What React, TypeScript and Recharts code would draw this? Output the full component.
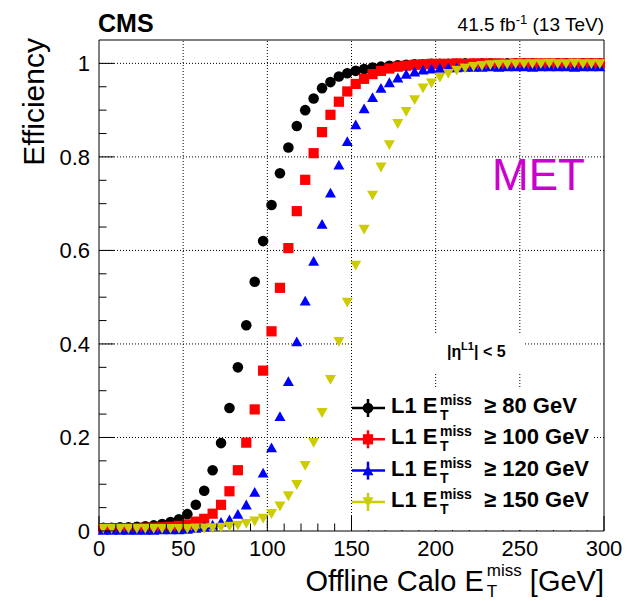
import React from 'react';
import {
  ScatterChart,
  Scatter,
  XAxis,
  YAxis,
  ReferenceLine,
  ReferenceArea,
} from 'recharts';

// offline calo MET bin centres [GeV]
const binCenters = [
  2.5, 7.5, 12.5, 17.5, 22.5, 27.5, 32.5, 37.5, 42.5, 47.5,
  52.5, 57.5, 62.5, 67.5, 72.5, 77.5, 82.5, 87.5, 92.5, 97.5,
  102.5, 107.5, 112.5, 117.5, 122.5, 127.5, 132.5, 137.5, 142.5, 147.5,
  152.5, 157.5, 162.5, 167.5, 172.5, 177.5, 182.5, 187.5, 192.5, 197.5,
  202.5, 207.5, 212.5, 217.5, 222.5, 227.5, 232.5, 237.5, 242.5, 247.5,
  252.5, 257.5, 262.5, 267.5, 272.5, 277.5, 282.5, 287.5, 292.5, 297.5,
];

// efficiency per L1 threshold
const eff80 = [
  0.007, 0.007, 0.008, 0.008, 0.009, 0.01, 0.012, 0.015, 0.019, 0.025,
  0.036, 0.056, 0.086, 0.13, 0.188, 0.263, 0.35, 0.44, 0.533, 0.62,
  0.697, 0.765, 0.82, 0.866, 0.9, 0.925, 0.947, 0.96, 0.972, 0.979,
  0.984, 0.988, 0.991, 0.993, 0.995, 0.996, 0.997, 0.998, 0.998, 0.999,
  0.999, 0.999, 0.999, 1.0, 0.999, 1.0, 1.0, 0.999, 1.0, 1.0,
  1.0, 1.0, 0.999, 1.0, 1.0, 1.0, 1.0, 1.0, 1.0, 1.0,
];
const eff100 = [
  0.006, 0.006, 0.006, 0.006, 0.006, 0.007, 0.007, 0.008, 0.009, 0.011,
  0.014, 0.02, 0.026, 0.037, 0.056, 0.085, 0.13, 0.189, 0.26, 0.343,
  0.427, 0.52, 0.605, 0.684, 0.751, 0.808, 0.853, 0.89, 0.918, 0.94,
  0.956, 0.967, 0.977, 0.984, 0.989, 0.993, 0.995, 0.997, 0.998, 0.999,
  0.999, 0.999, 1.0, 0.999, 1.0, 1.0, 1.0, 1.0, 0.999, 1.0,
  1.0, 1.0, 1.0, 1.0, 1.0, 1.0, 1.0, 1.0, 1.0, 1.0,
];
const eff120 = [
  0.002, 0.002, 0.002, 0.002, 0.002, 0.002, 0.002, 0.003, 0.003, 0.003,
  0.004, 0.006, 0.009, 0.013, 0.019, 0.024, 0.036, 0.056, 0.083, 0.124,
  0.178, 0.245, 0.32, 0.405, 0.492, 0.577, 0.656, 0.723, 0.783, 0.833,
  0.869, 0.903, 0.927, 0.947, 0.959, 0.969, 0.977, 0.982, 0.986, 0.988,
  0.99, 0.991, 0.991, 0.992, 0.992, 0.992, 0.993, 0.992, 0.993, 0.993,
  0.993, 0.992, 0.993, 0.993, 0.993, 0.993, 0.992, 0.993, 0.993, 0.993,
];
const eff150 = [
  0.005, 0.005, 0.005, 0.005, 0.005, 0.005, 0.005, 0.005, 0.005, 0.005,
  0.005, 0.006, 0.006, 0.007, 0.008, 0.01, 0.012, 0.016, 0.021, 0.027,
  0.037, 0.053, 0.075, 0.099, 0.14, 0.189, 0.253, 0.324, 0.405, 0.489,
  0.568, 0.645, 0.718, 0.778, 0.826, 0.871, 0.897, 0.922, 0.947, 0.958,
  0.97, 0.978, 0.985, 0.99, 0.993, 0.995, 0.997, 0.998, 0.998, 0.999,
  0.999, 0.999, 0.999, 1.0, 0.999, 0.999, 1.0, 0.999, 0.999, 0.999,
];

const thresholds = ['80', '100', '120', '150'];
const seriesValues = [eff80, eff100, eff120, eff150];
const seriesColors = ['#000000', '#ff0000', '#0000ff', '#cccc00'];
const markerKinds = ['circle', 'square', 'up', 'down'];

const xTicks = [
  0, 10, 20, 30, 40, 50, 60, 70, 80, 90, 100, 110, 120, 130, 140, 150,
  160, 170, 180, 190, 200, 210, 220, 230, 240, 250, 260, 270, 280, 290, 300,
];
const yTicks = [
  0, 0.05, 0.1, 0.15, 0.2, 0.25, 0.3, 0.35, 0.4, 0.45, 0.5,
  0.55, 0.6, 0.65, 0.7, 0.75, 0.8, 0.85, 0.9, 0.95, 1,
];
const xGrid = [50, 100, 150, 200, 250];
const yGrid = [0.2, 0.4, 0.6, 0.8, 1];

const FONT = '"Liberation Sans", Arial, Helvetica, sans-serif';

function Marker({ kind, cx, cy, color }: { kind: string; cx: number; cy: number; color: string }) {
  if (kind === 'circle') return <circle cx={cx} cy={cy} r={5.3} fill={color} />;
  if (kind === 'square')
    return <rect x={cx - 5.1} y={cy - 5.1} width={10.2} height={10.2} fill={color} />;
  if (kind === 'up')
    return (
      <polygon
        points={`${cx - 5.5},${cy + 4.6} ${cx + 5.5},${cy + 4.6} ${cx},${cy - 5.2}`}
        fill={color}
      />
    );
  return (
    <polygon
      points={`${cx - 5.5},${cy - 4.6} ${cx + 5.5},${cy - 4.6} ${cx},${cy + 5.2}`}
      fill={color}
    />
  );
}

const XTick = ({ x, y, payload }: any) => {
  const v = payload.value;
  const major = v % 50 === 0;
  return (
    <g>
      <line x1={x} x2={x} y1={y} y2={y - (major ? 15 : 7.5)} stroke="#000" />
      {major && (
        <text x={x} y={y + 25} textAnchor="middle" fontSize={22} fill="#000">
          {v}
        </text>
      )}
    </g>
  );
};

const YTick = ({ x, y, payload }: any) => {
  const v = payload.value;
  const major = Math.abs(v * 5 - Math.round(v * 5)) < 1e-6;
  return (
    <g>
      <line x1={x} x2={x + (major ? 15 : 7.5)} y1={y} y2={y} stroke="#000" />
      {major && (
        <text x={x - 9} y={y + 8} textAnchor="end" fontSize={22} fill="#000">
          {String(Number(v.toFixed(2)))}
        </text>
      )}
    </g>
  );
};

export default function App() {
  return (
    <div
      style={{
        position: 'absolute',
        left: 0,
        top: 0,
        width: 627,
        height: 601,
        background: '#fff',
        fontFamily: FONT,
      }}
    >
      <ScatterChart
        width={627}
        height={601}
        margin={{ top: 40, right: 23, left: 0, bottom: 0 }}
      >
        <XAxis
          dataKey="x"
          type="number"
          domain={[0, 300]}
          ticks={xTicks}
          interval={0}
          tickSize={0}
          tickMargin={0}
          height={70}
          axisLine={false}
          tickLine={false}
          tick={<XTick />}
        />
        <YAxis
          dataKey="y"
          type="number"
          domain={[0, 1.05]}
          ticks={yTicks}
          interval={0}
          tickSize={0}
          tickMargin={0}
          width={99}
          axisLine={false}
          tickLine={false}
          tick={<YTick />}
        />
        {xGrid.map((v) => (
          <ReferenceLine key={'gx' + v} x={v} stroke="#000" strokeDasharray="1 2" />
        ))}
        {yGrid.map((v) => (
          <ReferenceLine key={'gy' + v} y={v} stroke="#000" strokeDasharray="1 2" />
        ))}
        <ReferenceArea x1={0} x2={300} y1={0} y2={1.05} fill="none" stroke="#000" />
        {seriesValues.map((vals, s) => (
          <Scatter
            key={thresholds[s]}
            name={`L1 ≥ ${thresholds[s]} GeV`}
            data={binCenters.map((x, i) => ({ x, y: vals[i] }))}
            isAnimationActive={false}
            shape={(p: any) => (
              <Marker kind={markerKinds[s]} cx={p.cx} cy={p.cy} color={seriesColors[s]} />
            )}
          />
        ))}
      </ScatterChart>

      <svg
        width={627}
        height={601}
        style={{ position: 'absolute', left: 0, top: 0, pointerEvents: 'none' }}
      >
        <text x={98} y={32} fontSize={25} fontWeight="bold" fill="#000">
          CMS
        </text>
        <text x={604} y={31} fontSize={19} textAnchor="end" fill="#000">
          41.5 fb
          <tspan fontSize={13} dy={-7}>
            -1
          </tspan>
          <tspan dy={7}> (13 TeV)</tspan>
        </text>
        <text x={492} y={190} fontSize={44} fill="#cc00cc">
          MET
        </text>
        <text
          transform="translate(44,38) rotate(-90)"
          textAnchor="end"
          fontSize={30}
          fill="#000"
        >
          Efficiency
        </text>
        <text x={604} y={591} textAnchor="end" fontSize={29} fill="#000">
          Offline Calo E
          <tspan fontSize={17} dx={3} dy={6}>
            T
          </tspan>
          <tspan fontSize={17} dx={-10.4} dy={-21}>
            miss
          </tspan>
          <tspan dy={15}> [GeV]</tspan>
        </text>

        <rect x={353} y={335} width={172} height={37} fill="#fff" />
        <g fontWeight="bold" fill="#000">
          <text x={447} y={357} fontSize={16}>
            |η
          </text>
          <text x={461} y={350} fontSize={11}>
            L1
          </text>
          <text x={474} y={357} fontSize={16}>
            | &lt; 5
          </text>
        </g>

        <rect x={352} y={389} width={241} height={141} fill="#fff" />
        {thresholds.map((t, i) => {
          const base = 413 + 31.3 * i;
          const my = base - 5;
          return (
            <g key={t} fontWeight="bold" fill="#000">
              <line x1={352} x2={385} y1={my} y2={my} stroke={seriesColors[i]} strokeWidth={2.5} />
              <line x1={368} x2={368} y1={my - 9} y2={my + 9} stroke={seriesColors[i]} strokeWidth={2.5} />
              <Marker kind={markerKinds[i]} cx={368} cy={my} color={seriesColors[i]} />
              <text x={391} y={base} fontSize={22}>
                L1 E
              </text>
              <text x={440} y={base + 7} fontSize={14}>
                T
              </text>
              <text x={440} y={base - 8} fontSize={14}>
                miss
              </text>
              <text x={484} y={base} fontSize={22}>
                ≥ {t} GeV
              </text>
            </g>
          );
        })}
      </svg>
    </div>
  );
}
